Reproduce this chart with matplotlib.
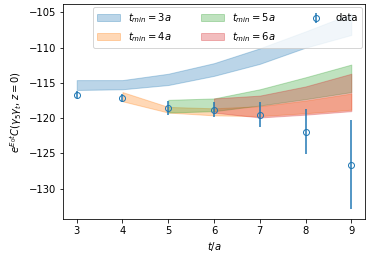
import numpy as np
import matplotlib.pyplot as plt

# data points
t = np.array([3, 4, 5, 6, 7, 8, 9])
val = np.array([-116.7, -117.1, -118.6, -118.8, -119.5, -121.9, -126.6])
err = np.array([0.5, 0.6, 1.0, 1.1, 1.8, 3.2, 6.3])

# fit bands, one per t_min
t3 = np.array([3, 4, 5, 6, 7, 8, 9])
lo3 = np.array([-116.0, -115.9, -115.3, -114.0, -112.3, -110.0, -108.2])
hi3 = np.array([-114.6, -114.6, -113.7, -112.2, -110.1, -107.7, -105.2])

t4 = np.array([4, 5, 6, 7, 8, 9])
lo4 = np.array([-117.6, -119.2, -119.6, -119.7, -119.3, -118.8])
hi4 = np.array([-116.3, -118.4, -118.6, -118.3, -117.5, -116.5])

t5 = np.array([5, 6, 7, 8, 9])
lo5 = np.array([-119.2, -119.0, -118.2, -117.3, -116.3])
hi5 = np.array([-117.4, -117.2, -115.9, -114.2, -112.4])

t6 = np.array([6, 7, 8, 9])
lo6 = np.array([-119.2, -119.9, -119.5, -119.0])
hi6 = np.array([-117.2, -116.8, -115.5, -113.7])

fig = plt.figure(figsize=(374/72, 260/72), dpi=72)
ax = fig.add_axes([63/374, 41/260, 302/374, 215/260])

ax.fill_between(t3, lo3, hi3, color='C0', alpha=0.3, label=r'$t_{min}=3a$')
ax.fill_between(t4, lo4, hi4, color='C1', alpha=0.3, label=r'$t_{min}=4a$')
ax.fill_between(t5, lo5, hi5, color='C2', alpha=0.3, label=r'$t_{min}=5a$')
ax.fill_between(t6, lo6, hi6, color='C3', alpha=0.3, label=r'$t_{min}=6a$')
ax.errorbar(t, val, yerr=err, fmt='o', mfc='none', color='C0', label='data')

ax.set_xlabel(r'$t/a$')
ax.set_ylabel(r'$e^{E_0 t}C(\gamma_5\gamma_t,z=0)$')
ax.legend(ncol=3, loc='upper right', handlelength=2.3, columnspacing=2.9,
          borderaxespad=0.3)

fig.savefig('out.png', dpi=72)
